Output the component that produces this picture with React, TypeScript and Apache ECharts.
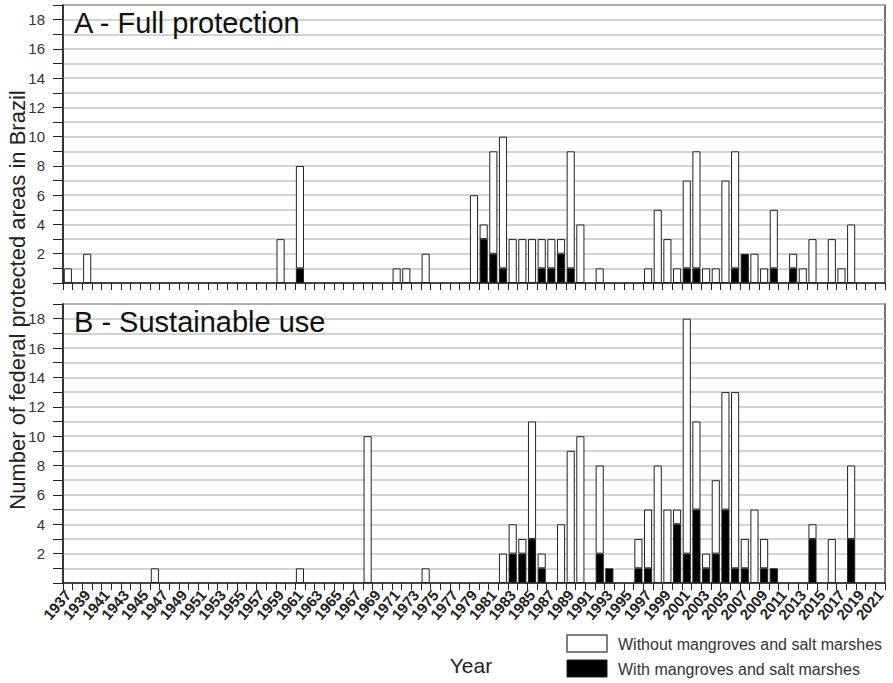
import React, { useEffect, useRef } from "react";
import * as echarts from "echarts";

// Panel A - Full protection (sparse: year, total count, count with mangroves)
const fullYears = [1937, 1939, 1959, 1961, 1971, 1972, 1974, 1979, 1980, 1981, 1982, 1983, 1984, 1985, 1986, 1987, 1988, 1989, 1990, 1992, 1997, 1998, 1999, 2000, 2001, 2002, 2003, 2004, 2005, 2006, 2007, 2008, 2009, 2010, 2012, 2013, 2014, 2016, 2017, 2018];
const fullTotal = [1, 2, 3, 8, 1, 1, 2, 6, 4, 9, 10, 3, 3, 3, 3, 3, 3, 9, 4, 1, 1, 5, 3, 1, 7, 9, 1, 1, 7, 9, 2, 2, 1, 5, 2, 1, 3, 3, 1, 4];
const fullWith = [0, 0, 0, 1, 0, 0, 0, 0, 3, 2, 1, 0, 0, 0, 1, 1, 2, 1, 0, 0, 0, 0, 0, 0, 1, 1, 0, 0, 0, 1, 2, 0, 0, 1, 1, 0, 0, 0, 0, 0];

// Panel B - Sustainable use
const sustYears = [1946, 1961, 1968, 1974, 1982, 1983, 1984, 1985, 1986, 1988, 1989, 1990, 1992, 1993, 1996, 1997, 1998, 1999, 2000, 2001, 2002, 2003, 2004, 2005, 2006, 2007, 2008, 2009, 2010, 2014, 2016, 2018];
const sustTotal = [1, 1, 10, 1, 2, 4, 3, 11, 2, 4, 9, 10, 8, 1, 3, 5, 8, 5, 5, 18, 11, 2, 7, 13, 13, 3, 5, 3, 1, 4, 3, 8];
const sustWith = [0, 0, 0, 0, 0, 2, 2, 3, 1, 0, 0, 0, 2, 1, 1, 1, 0, 0, 4, 2, 5, 1, 2, 5, 1, 1, 0, 1, 1, 3, 0, 3];

const firstYear = 1937;
const lastYear = 2021;
const categories: string[] = [];
for (let y = firstYear; y <= lastYear; y++) categories.push(String(y));

const NAME_WITHOUT = "Without mangroves and salt marshes";
const NAME_WITH = "With mangroves and salt marshes";
const FONT = "Liberation Sans, Arial, sans-serif";

function buildSeries(years: number[], total: number[], withM: number[]) {
  const w: (number | null)[] = categories.map(() => null);
  const wo: (number | null)[] = categories.map(() => null);
  years.forEach((y, i) => {
    const idx = y - firstYear;
    const a = withM[i];
    const b = total[i] - withM[i];
    w[idx] = a > 0 ? a : null;
    wo[idx] = b > 0 ? b : null;
  });
  return { w, wo };
}

export default function App() {
  const ref = useRef<HTMLDivElement>(null);
  useEffect(() => {
    if (!ref.current) return;
    const chart = echarts.init(ref.current, undefined, { renderer: "svg" });
    const A = buildSeries(fullYears, fullTotal, fullWith);
    const B = buildSeries(sustYears, sustTotal, sustWith);

    const grids = [
      { left: 63, top: 5, width: 822, height: 278 },
      { left: 63, top: 304, width: 822, height: 279 },
    ].map((g) => ({ ...g, show: true, borderColor: "#444", borderWidth: 1.5, containLabel: false }));

    const xAxis = [0, 1].map((i) => ({
      type: "category",
      gridIndex: i,
      data: categories,
      boundaryGap: true,
      axisLine: { show: true, lineStyle: { color: "#222", width: 1.5 } },
      axisTick: { show: true, interval: 0, length: 7, lineStyle: { color: "#222", width: 1 } },
      axisLabel: {
        show: i === 1,
        interval: 1,
        rotate: 50,
        fontSize: 15,
        fontWeight: "bold",
        color: "#222",
        fontFamily: FONT,
        margin: 9,
        showMinLabel: true,
        showMaxLabel: true,
        hideOverlap: false,
      },
      splitLine: { show: false },
    }));

    const yAxis = [0, 1].map((i) => ({
      type: "value",
      gridIndex: i,
      min: 0,
      max: 19,
      interval: 1,
      axisLine: { show: true, lineStyle: { color: "#222", width: 1.5 } },
      axisTick: { show: true, length: 10, lineStyle: { color: "#222", width: 1 } },
      axisLabel: {
        fontSize: 15,
        color: "#333",
        fontFamily: FONT,
        margin: 18,
        formatter: (v: number) => (v > 0 && v % 2 === 0 ? String(v) : ""),
      },
      splitLine: { show: true, lineStyle: { color: "#c4c4c4", width: 1.5 } },
    }));

    const mk = (idx: number, d: { w: (number | null)[]; wo: (number | null)[] }) => [
      {
        name: NAME_WITH,
        type: "bar",
        xAxisIndex: idx,
        yAxisIndex: idx,
        stack: "s" + idx,
        data: d.w,
        barCategoryGap: "16%",
        itemStyle: { color: "#000", borderColor: "#222", borderWidth: 1 },
      },
      {
        name: NAME_WITHOUT,
        type: "bar",
        xAxisIndex: idx,
        yAxisIndex: idx,
        stack: "s" + idx,
        data: d.wo,
        barCategoryGap: "16%",
        itemStyle: { color: "#fff", borderColor: "#222", borderWidth: 1 },
      },
    ];

    chart.setOption({
      animation: false,
      backgroundColor: "#fff",
      grid: grids,
      xAxis,
      yAxis,
      series: [...mk(0, A), ...mk(1, B)],
      graphic: [
        {
          type: "text",
          left: 74,
          top: 8,
          style: { text: "A - Full protection", fontSize: 29, fill: "#111", fontFamily: FONT },
          z: 10,
        },
        {
          type: "text",
          left: 74,
          top: 307,
          style: { text: "B - Sustainable use", fontSize: 29, fill: "#111", fontFamily: FONT },
          z: 10,
        },
        {
          type: "text",
          x: 17,
          y: 300,
          rotation: Math.PI / 2,
          style: {
            text: "Number of federal protected areas in Brazil",
            fontSize: 22,
            fill: "#222",
            fontFamily: FONT,
            align: "center",
            verticalAlign: "middle",
          },
        },
        {
          type: "text",
          x: 471,
          y: 665,
          style: { text: "Year", fontSize: 21, fill: "#222", fontFamily: FONT, align: "center", verticalAlign: "middle" },
        },
        {
          type: "rect",
          shape: { x: 567, y: 635, width: 40, height: 17 },
          style: { fill: "#fff", stroke: "#555", lineWidth: 1.5 },
        },
        {
          type: "text",
          x: 618,
          y: 644,
          style: { text: NAME_WITHOUT, fontSize: 16, fill: "#333", fontFamily: FONT, align: "left", verticalAlign: "middle" },
        },
        {
          type: "rect",
          shape: { x: 567, y: 660, width: 40, height: 17 },
          style: { fill: "#000", stroke: "#222", lineWidth: 1 },
        },
        {
          type: "text",
          x: 618,
          y: 669,
          style: { text: NAME_WITH, fontSize: 16, fill: "#333", fontFamily: FONT, align: "left", verticalAlign: "middle" },
        },
      ],
    });
    return () => chart.dispose();
  }, []);
  return (
    <div
      ref={ref}
      style={{ position: "absolute", left: 0, top: 0, width: 893, height: 683, background: "#fff" }}
    />
  );
}
